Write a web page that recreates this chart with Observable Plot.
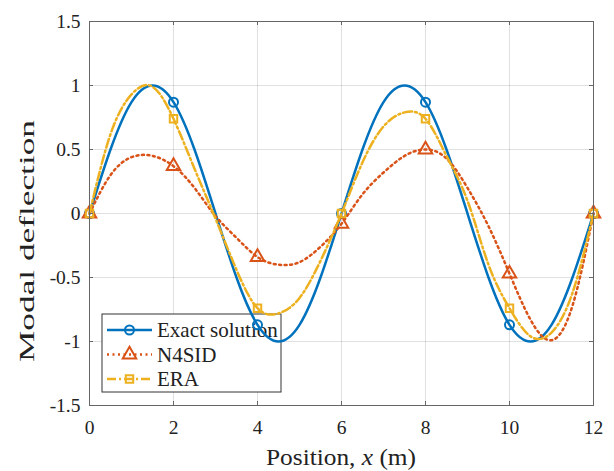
<!DOCTYPE html>
<html><head><meta charset="utf-8">
<script src="https://cdn.jsdelivr.net/npm/d3@7"></script>
<script src="https://cdn.jsdelivr.net/npm/@observablehq/plot@0.6"></script>
<style>body{margin:0;background:#fff;} #chart svg{display:block;}</style>
</head><body><div id="chart"></div>
<script>
const positions = [0,0.5,1,1.5,2,2.5,3,3.5,4,4.5,5,5.5,6,6.5,7,7.5,8,8.5,9,9.5,10,10.5,11,11.5,12];
const exactValues = [0,0.5,0.87,1,0.87,0.5,0,-0.5,-0.87,-1,-0.87,-0.5,0,0.5,0.87,1,0.87,0.5,0,-0.5,-0.87,-1,-0.87,-0.5,0];
const n4sidValues = [0,0.3,0.44,0.45,0.37,0.2,-0.02,-0.19,-0.34,-0.4,-0.38,-0.26,-0.08,0.15,0.32,0.45,0.5,0.43,0.2,-0.1,-0.47,-0.83,-0.99,-0.72,0];
const eraValues = [0,0.62,0.93,0.99,0.74,0.35,-0.04,-0.44,-0.74,-0.78,-0.66,-0.37,0,0.4,0.68,0.79,0.74,0.45,0.1,-0.4,-0.74,-0.96,-0.93,-0.62,0];
const markerPositions = [0,2,4,6,8,10,12];
const xTicks = [0,2,4,6,8,10,12];
const yTicks = [-1.5,-1,-0.5,0,0.5,1,1.5];
const yTickLabels = ["-1.5","-1","-0.5","0","0.5","1","1.5"];
const seriesNames = ["Exact solution","N4SID","ERA"];
const seriesColors = ["#0072BD","#D95319","#EDB120"];
const xLabelParts = ["Position, ", "x", " (m)"];
const yLabel = "Modal deflection";

const FONT = "Liberation Serif";
const W = 614, H = 471;
const mL = 89, mR = 21, mT = 21, mB = 66;
const pw = W - mL - mR, ph = H - mT - mB;

const toRows = vals => positions.map((x, i) => ({x, y: vals[i]}));
const series = [exactValues, n4sidValues, eraValues].map(toRows);
const markerRows = series.map(rows => rows.filter(d => markerPositions.includes(d.x)));
const dashes = [null, "2,3.5", "9,3,2,3"];
const symbols = ["circle", "triangle", "square"];
const radii = [4.5, 5, 4.2];

const marks = [
  Plot.gridX(xTicks, {stroke: "#000", strokeOpacity: 0.12}),
  Plot.gridY(yTicks, {stroke: "#000", strokeOpacity: 0.12}),
];
series.forEach((rows, i) => {
  marks.push(Plot.line(rows, {x: "x", y: "y", stroke: seriesColors[i], strokeWidth: 2.5,
    curve: "natural", strokeDasharray: dashes[i] || undefined}));
  marks.push(Plot.dot(markerRows[i], {x: "x", y: "y", stroke: seriesColors[i], strokeWidth: 2,
    fill: "none", symbol: symbols[i], r: radii[i]}));
});
marks.push(
  Plot.frame({stroke: "#666"}),
  Plot.tickX(xTicks, {x: d => d, insetTop: ph - 4, stroke: "#666"}),
  Plot.tickX(xTicks, {x: d => d, insetBottom: ph - 4, stroke: "#666"}),
  Plot.tickY(yTicks, {y: d => d, insetRight: pw - 4, stroke: "#666"}),
  Plot.tickY(yTicks, {y: d => d, insetLeft: pw - 4, stroke: "#666"}),
  Plot.axisX(xTicks, {tickSize: 0, tickPadding: 15, fontSize: 19.5, fontFamily: FONT, label: null, fill: "#222"}),
  Plot.axisY(yTicks, {tickSize: 0, tickPadding: 9, fontSize: 19.5, fontFamily: FONT, label: null, fill: "#222",
    tickFormat: d => yTickLabels[yTicks.indexOf(d)]})
);

const chart = Plot.plot({
  width: W, height: H,
  marginLeft: mL, marginRight: mR, marginTop: mT, marginBottom: mB,
  x: {domain: [0, 12], label: null, axis: null},
  y: {domain: [-1.5, 1.5], label: null, axis: null},
  style: {background: "#fff", color: "#222", fontFamily: FONT},
  marks
});
document.getElementById("chart").appendChild(chart);

const svg = d3.select(chart);

// x label with italic x
const xl = svg.append("text").attr("x", mL + pw / 2).attr("y", 465).attr("text-anchor", "middle")
  .attr("font-size", 23).attr("fill", "#222").attr("textLength", 150).attr("lengthAdjust", "spacingAndGlyphs");
xLabelParts.forEach((p, i) => {
  const ts = xl.append("tspan").text(p);
  if (i === 1) ts.attr("font-style", "italic");
});

// y label
svg.append("text").attr("transform", "translate(34,241) rotate(-90)")
  .attr("text-anchor", "middle").attr("font-size", 21.5)
  .attr("textLength", 242).attr("lengthAdjust", "spacingAndGlyphs")
  .attr("fill", "#222").text(yLabel);

// legend inside the axes, placed beneath the curves (curves stay visible over it)
const lgNode = document.createElementNS("http://www.w3.org/2000/svg", "g");
const yGrid = chart.querySelector('[aria-label="y-grid"]');
if (yGrid && yGrid.nextSibling) chart.insertBefore(lgNode, yGrid.nextSibling); else chart.appendChild(lgNode);
const lg = d3.select(lgNode).attr("text-anchor", "start");
lg.append("rect").attr("x", 102).attr("y", 314).attr("width", 179).attr("height", 78)
  .attr("fill", "#fff").attr("stroke", "#333").attr("stroke-width", 1);
const symMap = {circle: d3.symbolCircle, triangle: d3.symbolTriangle, square: d3.symbolSquare};
seriesNames.forEach((name, i) => {
  const cy = 330 + i * 24.5;
  const ln = lg.append("line").attr("x1", 107).attr("x2", 152).attr("y1", cy).attr("y2", cy)
    .attr("stroke", seriesColors[i]).attr("stroke-width", 2.5);
  if (dashes[i]) ln.attr("stroke-dasharray", dashes[i]);
  lg.append("path").attr("transform", `translate(129.5,${cy})`)
    .attr("d", d3.symbol(symMap[symbols[i]], Math.PI * radii[i] * radii[i])())
    .attr("fill", "none").attr("stroke", seriesColors[i]).attr("stroke-width", 2);
  lg.append("text").attr("x", 157).attr("y", cy + 7).attr("font-size", 21).attr("fill", "#222").text(name);
});

// set the serif font on every text
svg.selectAll("text, tspan").attr("font-family", FONT);
</script>
</body></html>
